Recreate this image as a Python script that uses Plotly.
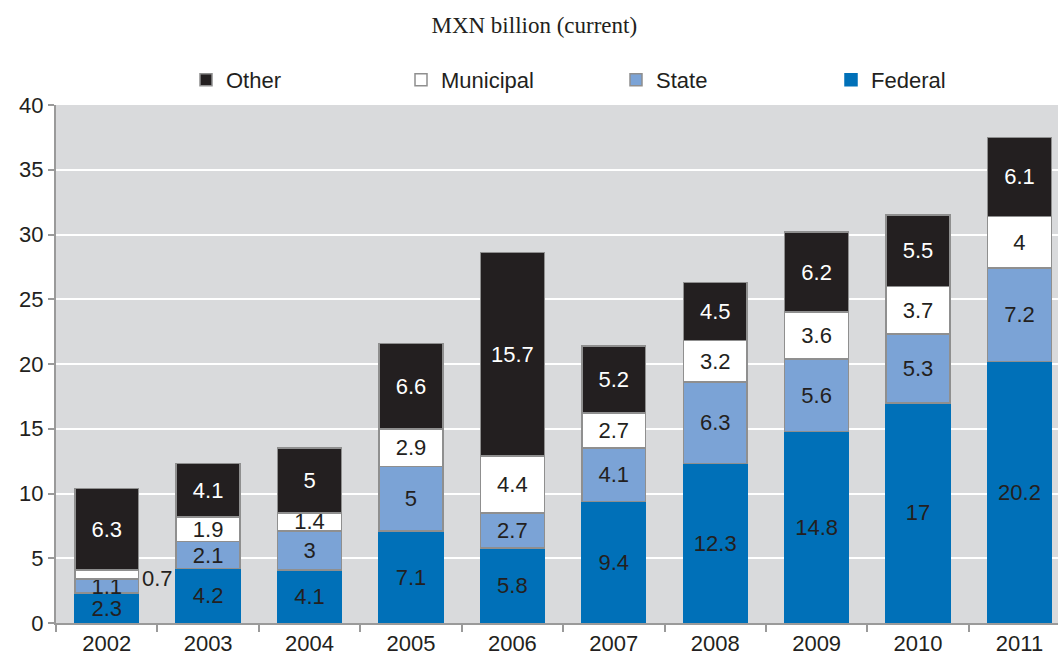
import plotly.graph_objects as go

years = ["2002", "2003", "2004", "2005", "2006", "2007", "2008", "2009", "2010", "2011"]
federal = [2.3, 4.2, 4.1, 7.1, 5.8, 9.4, 12.3, 14.8, 17, 20.2]
state = [1.1, 2.1, 3, 5, 2.7, 4.1, 6.3, 5.6, 5.3, 7.2]
municipal = [0.7, 1.9, 1.4, 2.9, 4.4, 2.7, 3.2, 3.6, 3.7, 4]
other = [6.3, 4.1, 5, 6.6, 15.7, 5.2, 4.5, 6.2, 5.5, 6.1]

FONT = "Liberation Sans, Arial, sans-serif"
DARK = "#231f20"
GRAY_LINE = "#8f8f8f"

fig = go.Figure()

def fmt(v):
    return ("%g" % v)

series = [
    ("Federal", federal, "#0070b8", "#0070b8", DARK),
    ("State", state, "#7ba3d6", GRAY_LINE, DARK),
    ("Municipal", municipal, "#ffffff", GRAY_LINE, DARK),
    ("Other", other, DARK, GRAY_LINE, "#ffffff"),
]

for name, vals, color, lc, tc in series:
    texts = [fmt(v) for v in vals]
    if name == "Municipal":
        texts[0] = ""  # 2002 label drawn beside the bar
    fig.add_trace(go.Bar(
        x=years, y=vals, name=name,
        marker=dict(color=color, line=dict(color=lc, width=1.5)),
        text=texts, textposition="inside", insidetextanchor="middle",
        textfont=dict(family=FONT, size=22, color=tc),
        hoverinfo="skip",
    ))

# outside label for the 2002 municipal segment
fig.add_annotation(
    x=0.33, y=federal[0] + state[0] + municipal[0] / 2 - 0.3,
    xref="x", yref="y", text=fmt(municipal[0]), showarrow=False,
    xanchor="left", yanchor="middle",
    font=dict(family=FONT, size=22, color=DARK),
)

fig.update_layout(
    barmode="stack",
    bargap=0.37,
    width=1058, height=660,
    margin=dict(l=56, r=0, t=105, b=37, autoexpand=False),
    paper_bgcolor="#ffffff",
    plot_bgcolor="#d9dadc",
    uniformtext=dict(minsize=22, mode="show"),
    title=dict(text="MXN billion (current)", x=0.505, xref="container",
               y=1 - 25 / 660, yref="container", xanchor="center", yanchor="middle",
               font=dict(family="Liberation Serif, Times New Roman, serif", size=23, color=DARK)),
    legend=dict(orientation="h", traceorder="reversed",
                x=186 / 1058, xref="container", xanchor="left",
                y=1 - 80 / 660, yref="container", yanchor="middle",
                font=dict(family=FONT, size=22, color=DARK),
                entrywidth=170, entrywidthmode="pixels",
                bgcolor="rgba(0,0,0,0)"),
    showlegend=True,
)

fig.update_xaxes(
    type="category", range=[-0.5, 9.38],
    showgrid=False, showline=True, linecolor="#9a9a9a", linewidth=2,
    ticks="outside", tickson="boundaries", ticklen=7, tickcolor="#9a9a9a", tickwidth=1.5,
    tickfont=dict(family=FONT, size=22, color=DARK),
)
fig.update_yaxes(
    range=[0, 40], tickvals=[0, 5, 10, 15, 20, 25, 30, 35, 40],
    showgrid=True, gridcolor="#ffffff", gridwidth=2,
    showline=True, linecolor="#9a9a9a", linewidth=2,
    ticks="outside", ticklen=6, tickcolor="#9a9a9a", tickwidth=1.5,
    tickfont=dict(family=FONT, size=22, color=DARK),
    zeroline=False,
)

fig.write_html("out.html", config={"displayModeBar": False},
               post_script="document.body.style.margin='0';document.body.style.overflow='hidden';")
